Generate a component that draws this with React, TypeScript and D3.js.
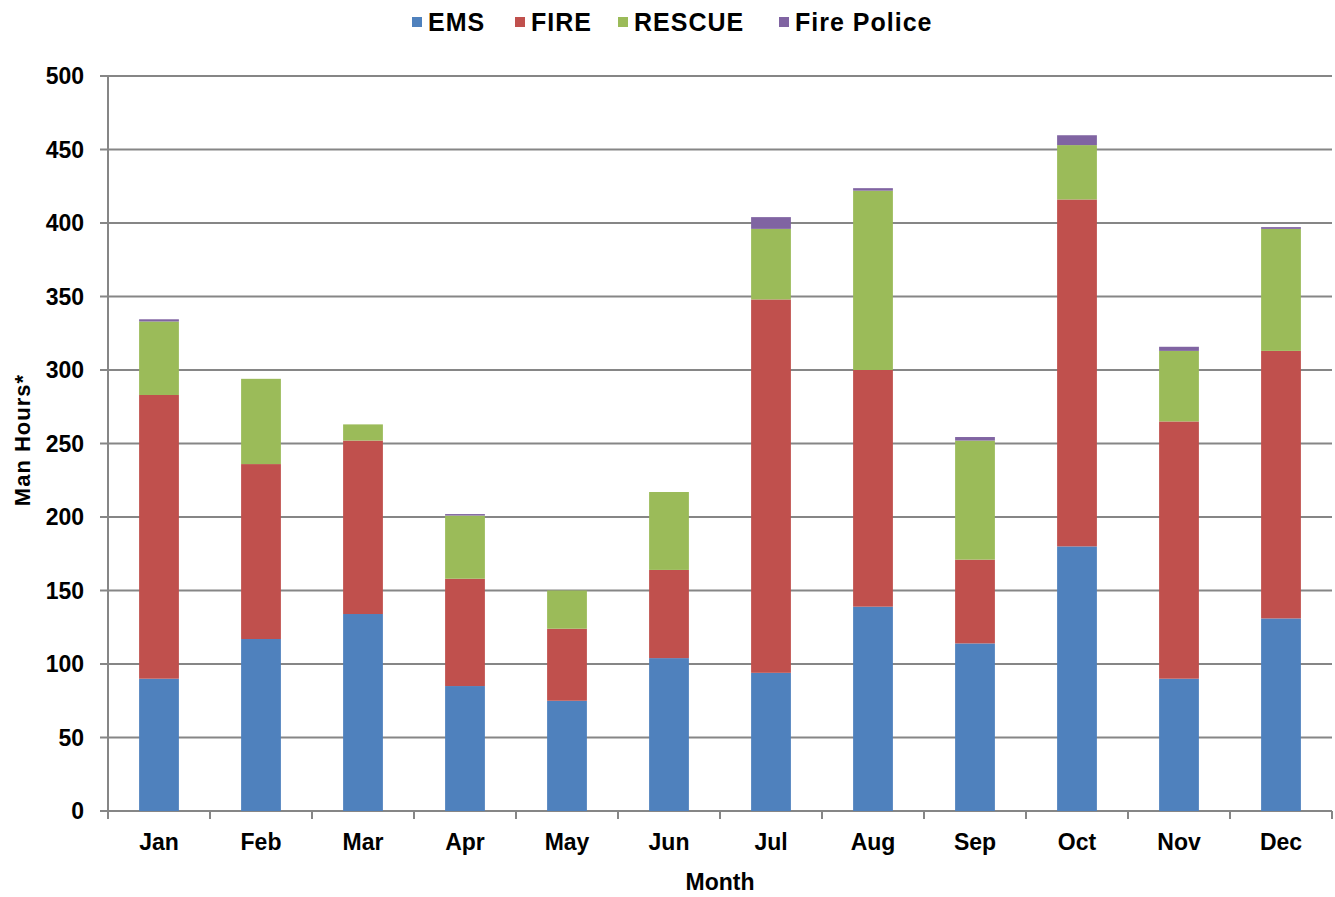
import React from 'react'
import * as d3 from 'd3'

const months = ['Jan', 'Feb', 'Mar', 'Apr', 'May', 'Jun', 'Jul', 'Aug', 'Sep', 'Oct', 'Nov', 'Dec']
const ems = [90, 117, 134, 85, 75, 104, 94, 139, 114, 180, 90, 131]
const fire = [193, 119, 118, 73, 49, 60, 254, 161, 57, 236, 175, 182]
const rescue = [50, 58, 11, 43, 26, 53, 48, 122, 81, 37, 48, 83]
const firePolice = [1.5, 0, 0, 1, 0, 0, 8, 1.7, 2.4, 6.7, 2.8, 1.2]
const seriesNames = ['EMS', 'FIRE', 'RESCUE', 'Fire Police']
const colors = ['#4F81BD', '#C0504D', '#9BBB59', '#8064A2']
const yTicks = [0, 50, 100, 150, 200, 250, 300, 350, 400, 450, 500]

const W = 1335
const H = 897
const left = 108
const right = 1332
const top = 76
const bottom = 811
const font = 'Liberation Sans, Arial, sans-serif'
const grid = '#868686'

export default function App() {
  const rows = months.map((m, i) => ({
    month: m, EMS: ems[i], FIRE: fire[i], RESCUE: rescue[i], 'Fire Police': firePolice[i],
  }))
  const stacked = d3.stack<any>().keys(seriesNames)(rows)

  const x = d3.scaleBand().domain(months).range([left, right]).paddingInner(0.61).paddingOuter(0.305)
  const band = d3.scaleBand().domain(months).range([left, right])
  const y = d3.scaleLinear().domain([0, 500]).range([bottom, top])

  // legend layout (hand-tuned positions of each entry)
  const legendX = [412, 515, 618, 779]

  return (
    <svg width={W} height={H} style={{ position: 'absolute', left: 0, top: 0, background: '#fff' }}>
      {yTicks.map(t => (
        <g key={t}>
          <line x1={left - 8} x2={right} y1={y(t)} y2={y(t)} stroke={grid} strokeWidth={2} />
          <text x={84} y={y(t)} dy="0.36em" textAnchor="end" fontFamily={font} fontWeight="bold" fontSize={23}>{t}</text>
        </g>
      ))}
      {stacked.map((s, si) => (
        <g key={s.key} fill={colors[si]}>
          {s.map((d, i) => (
            <rect key={i} x={x(months[i])} width={x.bandwidth()} y={y(d[1])} height={Math.max(0, y(d[0]) - y(d[1]))} />
          ))}
        </g>
      ))}
      <line x1={left} x2={left} y1={top} y2={bottom} stroke={grid} strokeWidth={2} />
      {months.concat(['']).map((m, i) => {
        const xx = i < months.length ? band(m)! : right
        return <line key={i} x1={xx} x2={xx} y1={bottom} y2={bottom + 8} stroke={grid} strokeWidth={2} />
      })}
      {months.map(m => (
        <text key={m} x={band(m)! + band.bandwidth() / 2} y={842} dy="0.36em" textAnchor="middle" fontFamily={font} fontWeight="bold" fontSize={23}>{m}</text>
      ))}
      <text x={720} y={882} dy="0.36em" textAnchor="middle" fontFamily={font} fontWeight="bold" fontSize={23}>Month</text>
      <text transform="translate(22,440) rotate(-90)" dy="0.36em" textAnchor="middle" fontFamily={font} fontWeight="bold" fontSize={22} letterSpacing={1}>Man Hours*</text>
      {seriesNames.map((n, i) => (
        <g key={n} transform={`translate(${legendX[i]},22)`}>
          <rect x={0} y={-5} width={10} height={10} fill={colors[i]} />
          <text x={16} y={0} dy="0.36em" fontFamily={font} fontWeight="bold" fontSize={25} letterSpacing={1}>{n}</text>
        </g>
      ))}
    </svg>
  )
}
